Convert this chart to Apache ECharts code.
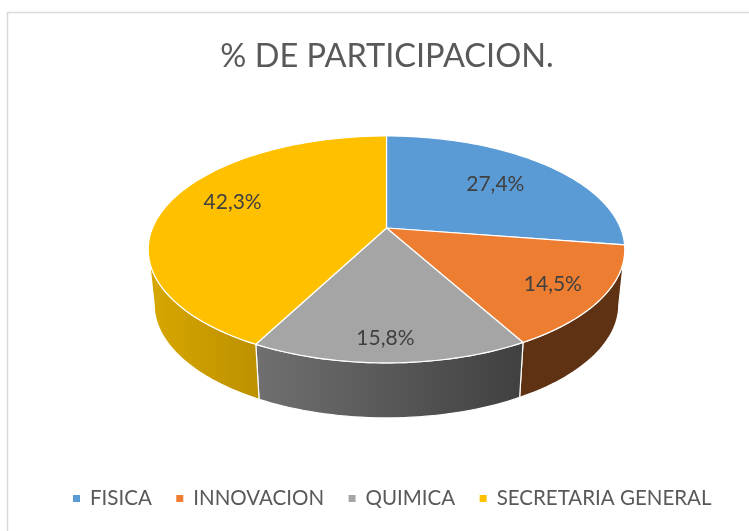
<!DOCTYPE html>
<html><head><meta charset="utf-8">
<style>html,body{margin:0;padding:0;background:#fff}#c{width:749px;height:531px;filter:blur(0.45px)}</style>
<script src="https://cdn.jsdelivr.net/npm/echarts@6/dist/echarts.min.js"></script>
</head><body><div id="c"></div>
<script>
const categories = ['FISICA', 'INNOVACION', 'QUIMICA', 'SECRETARIA GENERAL'];
const values = [27.4, 14.5, 15.8, 42.3];
const topColors = ['#5B9BD5', '#ED7D31', '#A5A5A5', '#FFC000'];
const sideStops = [['#3A6A96', '#3A6A96'], ['#5F3213', '#5F3213'], ['#707070', '#404040'], ['#D7A700', '#BD9000']];
const titleText = '% DE PARTICIPACION.';

// projection of the pie disc
const CX = 386.5, CY = 228, A = 109.4, B = 234, P = 0.189;
const DEPTH = 55, BOTTOM_SCALE = 0.975;
const FRONT_MIN = 100.9, FRONT_MAX = 259.1;
const LABEL_R = [0.67, 0.8, 0.84, 0.68], LABEL_DX = [-1, -2, -4, -4], LABEL_DY = [0, 2, 1, -8];
const FONT = 'Lato,"Liberation Sans",sans-serif';

const total = values.reduce((a, b) => a + b, 0);
const starts = []; values.reduce((acc, v, i) => (starts[i] = acc, acc + v), 0);
const deg = v => v / total * 360;

function project(thetaDeg, r) {
  const t = thetaDeg * Math.PI / 180, X = r * Math.sin(t), Z = r * Math.cos(t), w = 1 + P * Z;
  return [CX + B * X / w, CY - A * Z / w];
}
function rim(a0, a1, bottom) {
  const n = Math.max(2, Math.ceil(Math.abs(a1 - a0) / 1.5)), pts = [];
  for (let i = 0; i <= n; i++) {
    const p = project(a0 + (a1 - a0) * i / n, 1);
    pts.push(bottom ? [CX + (p[0] - CX) * BOTTOM_SCALE, p[1] + DEPTH] : p);
  }
  return pts;
}

const series = categories.map((name, idx) => ({
  name, type: 'custom', coordinateSystem: 'none',
  itemStyle: { color: topColors[idx] },
  data: [[values[idx]]],
  silent: true, animation: false,
  renderItem(params, api) {
    const v = api.value(0), a0 = deg(starts[idx]), a1 = a0 + deg(v);
    const children = [];
    const s0 = Math.max(a0, FRONT_MIN), s1 = Math.min(a1, FRONT_MAX);
    if (s1 > s0) {
      const top = rim(s0, s1, false), bot = rim(s1, s0, true), all = top.concat(bot);
      const xs = all.map(p => p[0]);
      children.push({
        type: 'polygon', z2: 1, shape: { points: all },
        style: {
          fill: new echarts.graphic.LinearGradient(Math.min(...xs), 0, Math.max(...xs), 0,
            [{ offset: 0, color: sideStops[idx][0] }, { offset: 1, color: sideStops[idx][1] }], true),
          stroke: '#fff', lineWidth: 1.2
        }
      });
    }
    children.push({
      type: 'polygon', z2: 5, shape: { points: [[CX, CY]].concat(rim(a0, a1, false)) },
      style: { fill: topColors[idx], stroke: '#fff', lineWidth: 1.2, lineJoin: 'round' }
    });
    const lp = project((a0 + a1) / 2, LABEL_R[idx]);
    children.push({
      type: 'text', z2: 10, x: lp[0] + LABEL_DX[idx], y: lp[1] + LABEL_DY[idx],
      style: {
        text: v.toFixed(1).replace('.', ',') + '%', fill: '#404040',
        font: '21px ' + FONT, align: 'center', verticalAlign: 'middle'
      }
    });
    return { type: 'group', children };
  }
}));

const chart = echarts.init(document.getElementById('c'), null, { renderer: 'canvas' });
chart.setOption({
  animation: false,
  backgroundColor: '#fff',
  title: {
    text: titleText, left: 382, top: 35, textAlign: 'center',
    textStyle: { fontFamily: FONT, fontSize: 32.5, fontWeight: 'normal', color: '#595959' }
  },
  legend: {
    data: categories, left: 68, top: 483, width: 681, icon: 'rect', itemWidth: 7, itemHeight: 7, itemGap: 24.5,
    selectedMode: false,
    textStyle: { fontFamily: FONT, fontSize: 20.5, color: '#595959', padding: [0, 0, 0, 5] }
  },
  graphic: [{
    type: 'polyline', silent: true,
    shape: { points: [[7.5, 531], [7.5, 12.5], [749, 12.5]] },
    style: { fill: 'none', stroke: '#D9D9D9', lineWidth: 1.5 }
  }],
  series
});
</script></body></html>
